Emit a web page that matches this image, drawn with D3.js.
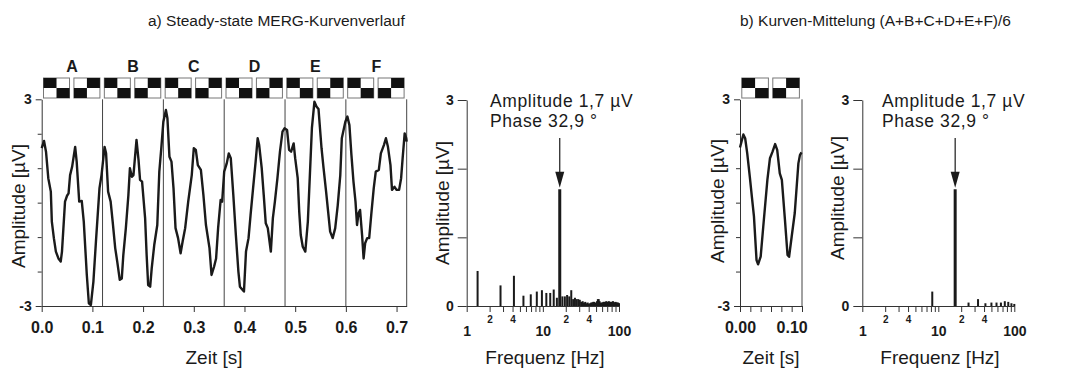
<!DOCTYPE html>
<html>
<head>
<meta charset="utf-8">
<script src="https://cdn.jsdelivr.net/npm/d3@7"></script>
<style>
  body { margin: 0; background: #fff; }
  svg text { font-family: "Liberation Sans", Arial, sans-serif; fill: #1a1a1a; }
</style>
</head>
<body>
<svg id="chart" width="1074" height="374"></svg>
<script>
// ---------- Daten ----------
// Steady-state MERG, 6 Stimulus-Abschnitte à 0,12 s
const segmentNamen = ["A", "B", "C", "D", "E", "F"];
const segmentDauer = 0.12;

// Kurvenverlauf a): Zeit [s] und Amplitude [µV]
const zeitA = [0.000,0.0046,0.0085,0.013,0.018,0.020,0.024,0.028,0.033,0.0375,0.040,0.046,0.050,0.053,0.056,0.060,0.066,0.069,0.074,0.079,0.083,0.089,0.093,0.097,0.102,0.107,0.114,0.118,0.124,0.127,0.131,0.136,0.140,0.145,0.149,0.154,0.158,0.161,0.166,0.171,0.174,0.178,0.181,0.187,0.191,0.194,0.198,0.204,0.207,0.210,0.214,0.217,0.222,0.228,0.232,0.236,0.240,0.245,0.248,0.252,0.256,0.260,0.264,0.269,0.274,0.278,0.283,0.289,0.296,0.300,0.304,0.308,0.314,0.319,0.324,0.331,0.335,0.340,0.344,0.348,0.353,0.356,0.360,0.365,0.369,0.373,0.378,0.383,0.388,0.391,0.396,0.399,0.403,0.408,0.412,0.417,0.422,0.426,0.429,0.434,0.438,0.442,0.446,0.452,0.456,0.460,0.465,0.470,0.475,0.479,0.484,0.488,0.492,0.497,0.500,0.505,0.508,0.511,0.515,0.520,0.525,0.529,0.533,0.538,0.542,0.546,0.552,0.556,0.561,0.565,0.569,0.574,0.579,0.584,0.589,0.592,0.599,0.603,0.607,0.611,0.615,0.619,0.622,0.625,0.628,0.632,0.635,0.638,0.642,0.646,0.650,0.655,0.659,0.665,0.669,0.675,0.679,0.683,0.688,0.691,0.696,0.700,0.705,0.709,0.712,0.716,0.719,0.720];
const amplitudeA = [1.58,1.79,1.48,0.71,0.32,-0.55,-1.03,-1.42,-1.62,-1.71,-1.42,0.03,0.20,0.27,0.80,1.04,1.62,1.19,0.03,0.05,-0.55,-2.10,-2.92,-2.97,-2.29,-1.13,0.42,0.80,1.62,1.43,0.32,0.03,-0.55,-1.32,-1.71,-2.24,-2.20,-1.52,-0.74,0.22,1.00,0.75,0.80,1.82,1.24,0.66,0.61,-0.45,-1.52,-2.39,-2.44,-1.91,-1.23,-0.65,0.90,1.60,2.35,2.69,2.45,1.33,1.19,0.42,-0.74,-1.03,-1.47,-1.13,-0.74,0.03,0.80,1.58,1.53,1.09,0.95,0.22,-0.65,-1.32,-2.10,-1.86,-1.62,-0.74,0.08,0.03,0.90,1.14,1.43,1.29,0.22,-0.94,-2.00,-2.44,-2.53,-2.58,-1.42,-1.03,-0.36,0.42,1.19,1.87,1.67,1.00,0.22,-0.60,-0.74,-1.42,-0.45,0.03,0.71,1.48,2.06,2.16,2.11,1.53,1.48,1.72,1.29,0.71,-0.26,-0.94,-1.28,-1.42,-0.55,0.80,2.16,2.93,2.79,2.72,1.58,1.00,0.32,-0.26,-0.84,-1.03,-0.74,-0.07,0.80,1.87,2.35,2.50,2.25,1.38,0.61,0.03,-0.65,-0.31,-0.21,-0.94,-1.62,-1.18,-1.03,-1.03,-0.36,0.42,0.90,0.95,1.43,1.67,1.87,1.62,1.09,0.37,0.46,0.37,0.37,0.71,1.29,2.01,1.87,1.77];

// Amplitudenspektrum a): Frequenz [Hz] und Amplitude [µV]
const frequenzA = [1.39,2.78,4.17,5.56,6.94,8.33,9.72,11.11,12.50,13.89,15.28,16.67,18.06,19.44,20.83,22.22,23.61,25.00,26.39,27.78,29.17,30.56,31.94,33.33,34.72,36.11,37.50,38.89,40.28,41.67,43.06,44.44,45.83,47.22,48.61,50.00,51.39,52.78,54.17,55.56,56.94,58.33,59.72,61.11,62.50,63.89,65.28,66.67,68.06,69.44,70.83,72.22,73.61,75.00,76.39,77.78,79.17,80.56,81.94,83.33,84.72,86.11,87.50,88.89,90.28,91.67,93.06,94.44,95.83,97.22,98.61,100.00];
const spektrumA = [0.51,0.30,0.44,0.15,0.17,0.21,0.23,0.19,0.19,0.24,0.12,1.70,0.14,0.14,0.16,0.14,0.23,0.10,0.12,0.10,0.10,0.09,0.06,0.07,0.05,0.06,0.04,0.05,0.03,0.04,0.05,0.05,0.06,0.06,0.05,0.04,0.07,0.10,0.10,0.07,0.05,0.04,0.05,0.05,0.06,0.06,0.05,0.06,0.07,0.06,0.05,0.06,0.07,0.06,0.05,0.06,0.06,0.05,0.06,0.07,0.06,0.05,0.04,0.05,0.06,0.05,0.04,0.05,0.04,0.05,0.04,0.04];

// Gemittelte Kurve b)
const zeitB = [0.000,0.0065,0.010,0.014,0.019,0.023,0.027,0.032,0.035,0.040,0.045,0.053,0.058,0.063,0.068,0.072,0.077,0.081,0.087,0.092,0.095,0.100,0.106,0.113,0.116,0.119];
const amplitudeB = [1.60,1.98,1.87,1.43,0.75,0.17,-0.40,-1.67,-1.79,-1.57,-0.70,0.66,1.29,1.48,1.70,1.53,0.85,0.66,-0.50,-1.52,-1.57,-0.99,-0.30,1.14,1.38,1.46];

// Amplitudenspektrum b)
const frequenzB = [8.33,16.67,25.00,33.33,41.67,50.00,58.33,66.67,75.00,83.33,91.67,100.00];
const spektrumB = [0.21,1.70,0.05,0.10,0.04,0.05,0.05,0.05,0.07,0.06,0.04,0.03];

// Grundfrequenz mit Angaben
const reizFrequenz = 16.67;
const reizAmplitude = 1.7;
const reizPhase = 32.9;

// Achsenbeschriftungen
const zeitTicksA = [0, 0.1, 0.2, 0.3, 0.4, 0.5, 0.6, 0.7];
const zeitTicksB = [0, 0.02, 0.04, 0.06, 0.08, 0.10, 0.12];
const zeitLabelsB = [0, 0.10];
const ampTicks = [-3, -2, -1, 0, 1, 2, 3];
const freqTicks = [1,2,3,4,5,6,7,8,9,10,20,30,40,50,60,70,80,90,100];
const freqHaupt = [1, 10, 100];
const freqNeben = { 2: "2", 4: "4", 20: "2", 40: "4" };
const spekTicks = [0, 1, 2, 3];

// ---------- Zeichnung ----------
const FONT = '"Liberation Sans", Arial, sans-serif';
const INK = "#1a1a1a";
const AXIS = "#333";
const svg = d3.select("#chart");

const xZeitA = d3.scaleLinear().domain([0, 0.72]).range([41.7, 406.7]);
const xZeitB = d3.scaleLinear().domain([0, 0.12]).range([740, 802]);
const yZeit = d3.scaleLinear().domain([-3, 3]).range([306, 99.3]);
const xFreqA = d3.scaleLog().domain([1, 100]).range([466.7, 619]);
const xFreqB = d3.scaleLog().domain([1, 100]).range([862.3, 1014.3]);
const yFreq = d3.scaleLinear().domain([0, 3]).range([306, 100]);

// Überschriften
svg.append("text").attr("x", 148).attr("y", 26).attr("font-size", 15.5)
  .text("a) Steady-state MERG-Kurvenverlauf");
svg.append("text").attr("x", 740).attr("y", 26).attr("font-size", 15.5)
  .text("b) Kurven-Mittelung (A+B+C+D+E+F)/6");

function styleAxis(g) {
  g.attr("font-family", FONT).attr("font-weight", "bold");
  g.selectAll("line").attr("stroke", AXIS);
  g.select(".domain").attr("stroke", AXIS);
  g.selectAll("text").attr("fill", INK);
}

function yLabel(x, y) {
  svg.append("text")
    .attr("transform", `translate(${x},${y}) rotate(-90)`)
    .attr("text-anchor", "middle").attr("font-size", 19)
    .text("Amplitude [µV]");
}
function xLabel(x, text) {
  svg.append("text").attr("x", x).attr("y", 364)
    .attr("text-anchor", "middle").attr("font-size", 19).text(text);
}

// Schachbrett-Symbole (Musterumkehr) über einem Abschnitt
function schachbrett(x0, x1, top) {
  const half = (x1 - x0) / 2;
  [0, 1].forEach(k => {
    const ix = x0 + k * half + 1.8;
    const w = half - 4.4;
    const sq = w / 2, h = 10;
    const g = svg.append("g");
    const cells = [
      { c: 0, r: 0, black: k === 0 }, { c: 1, r: 0, black: k === 1 },
      { c: 0, r: 1, black: k === 1 }, { c: 1, r: 1, black: k === 0 }
    ];
    g.append("rect").attr("x", ix).attr("y", top).attr("width", w).attr("height", 2 * h)
      .attr("fill", "#fff").attr("stroke", "#777").attr("stroke-width", 1);
    cells.filter(d => d.black).forEach(d => {
      g.append("rect").attr("x", ix + d.c * sq).attr("y", top + d.r * h)
        .attr("width", sq).attr("height", h).attr("fill", "#111");
    });
  });
}

function zeitPanel(xs, zeit, amp, xTicks, xFmt, segNamen) {
  // Abschnittsgrenzen
  const grenzen = d3.range(1, Math.round(xs.domain()[1] / segmentDauer) + 1).map(i => i * segmentDauer);
  svg.append("g").selectAll("line").data(grenzen).join("line")
    .attr("x1", d => xs(d)).attr("x2", d => xs(d))
    .attr("y1", yZeit(3)).attr("y2", yZeit(-3))
    .attr("stroke", "#444").attr("stroke-width", 1);

  // Symbole und Buchstaben
  const n = Math.round(xs.domain()[1] / segmentDauer);
  for (let i = 0; i < n; i++) {
    const a = xs(i * segmentDauer), b = xs((i + 1) * segmentDauer);
    schachbrett(a, b, 78);
    if (segNamen) {
      svg.append("text").attr("x", (a + b) / 2).attr("y", 71.5)
        .attr("text-anchor", "middle").attr("font-size", 16).attr("font-weight", "bold")
        .text(segNamen[i]);
    }
  }

  const gx = svg.append("g").attr("transform", `translate(0,${yZeit(-3)})`)
    .call(d3.axisBottom(xs).tickValues(xTicks).tickFormat(xFmt).tickSize(6).tickSizeOuter(0));
  styleAxis(gx);
  gx.selectAll("text").attr("font-size", 16).attr("dy", null).attr("y", 27);

  const gy = svg.append("g").attr("transform", `translate(${xs.range()[0]},0)`)
    .call(d3.axisLeft(yZeit).tickValues(ampTicks)
      .tickFormat(d => Math.abs(d) === 3 ? String(d) : "").tickSize(6).tickSizeOuter(0).tickPadding(4));
  styleAxis(gy);
  gy.selectAll("text").attr("font-size", 14);
  gy.selectAll(".tick line").attr("x2", d => Math.abs(d) === 3 ? -6 : -4);

  // Kurve
  const pts = zeit.map((t, i) => [t, amp[i]]);
  svg.append("path").datum(pts)
    .attr("fill", "none").attr("stroke", INK).attr("stroke-width", 2.4)
    .attr("stroke-linejoin", "round")
    .attr("d", d3.line().x(d => xs(d[0])).y(d => yZeit(d[1])));
}

function spektrumPanel(xs, freq, amp, textX) {
  const gx = svg.append("g").attr("transform", `translate(0,${yFreq(0)})`)
    .call(d3.axisBottom(xs).tickValues(freqTicks)
      .tickFormat(d => freqHaupt.includes(d) ? String(d) : (freqNeben[d] || "")).tickSize(6).tickSizeOuter(0));
  styleAxis(gx);
  gx.selectAll("text")
    .attr("dy", null)
    .attr("font-size", d => freqHaupt.includes(d) ? 14 : 10)
    .attr("y", d => freqHaupt.includes(d) ? 30 : 17);

  const gy = svg.append("g").attr("transform", `translate(${xs.range()[0]},0)`)
    .call(d3.axisLeft(yFreq).tickValues(spekTicks)
      .tickFormat(d => (d === 0 || d === 3) ? String(d) : "").tickSize(9).tickSizeOuter(0).tickPadding(4));
  styleAxis(gy);
  gy.selectAll("text").attr("font-size", 14);

  // Balken
  svg.append("g").selectAll("rect").data(freq.map((f, i) => ({ f, a: amp[i] }))).join("rect")
    .attr("x", d => xs(d.f) - (d.f === reizFrequenz ? 1.5 : 1))
    .attr("width", d => d.f === reizFrequenz ? 3 : 2)
    .attr("y", d => yFreq(d.a))
    .attr("height", d => yFreq(0) - yFreq(d.a))
    .attr("fill", INK);

  // Pfeil auf die Reizfrequenz
  const ax = xs(reizFrequenz);
  const tip = yFreq(reizAmplitude) - 1.5;
  svg.append("line").attr("x1", ax).attr("x2", ax).attr("y1", 138).attr("y2", tip - 14)
    .attr("stroke", INK).attr("stroke-width", 1.2);
  svg.append("path")
    .attr("d", `M${ax - 4.5},${tip - 16}L${ax + 4.5},${tip - 16}L${ax},${tip}Z`)
    .attr("fill", INK);

  // zweizeilige Angabe von Amplitude und Phase
  const fmt = v => String(v).replace(".", ",");
  svg.append("text").attr("x", textX).attr("y", 107).attr("font-size", 17.5)
    .attr("letter-spacing", 0.6)
    .text(`Amplitude ${fmt(reizAmplitude)} µV`);
  svg.append("text").attr("x", textX).attr("y", 127).attr("font-size", 17.5)
    .attr("letter-spacing", 0.6)
    .text(`Phase ${fmt(reizPhase)} °`);
}

// a) Zeitverlauf
zeitPanel(xZeitA, zeitA, amplitudeA, zeitTicksA, d3.format(".1f"), segmentNamen);
yLabel(25, 206);
xLabel(214, "Zeit [s]");

// a) Spektrum
spektrumPanel(xFreqA, frequenzA, spektrumA, 490);
yLabel(449, 203);
xLabel(545, "Frequenz [Hz]");

// b) gemittelte Kurve
zeitPanel(xZeitB, zeitB, amplitudeB, zeitTicksB,
  d => zeitLabelsB.some(v => Math.abs(v - d) < 1e-9) ? d3.format(".2f")(d) : "", null);
yLabel(724, 201);
xLabel(771, "Zeit [s]");

// b) Spektrum
spektrumPanel(xFreqB, frequenzB, spektrumB, 882);
yLabel(844, 198);
xLabel(940, "Frequenz [Hz]");
</script>
</body>
</html>
